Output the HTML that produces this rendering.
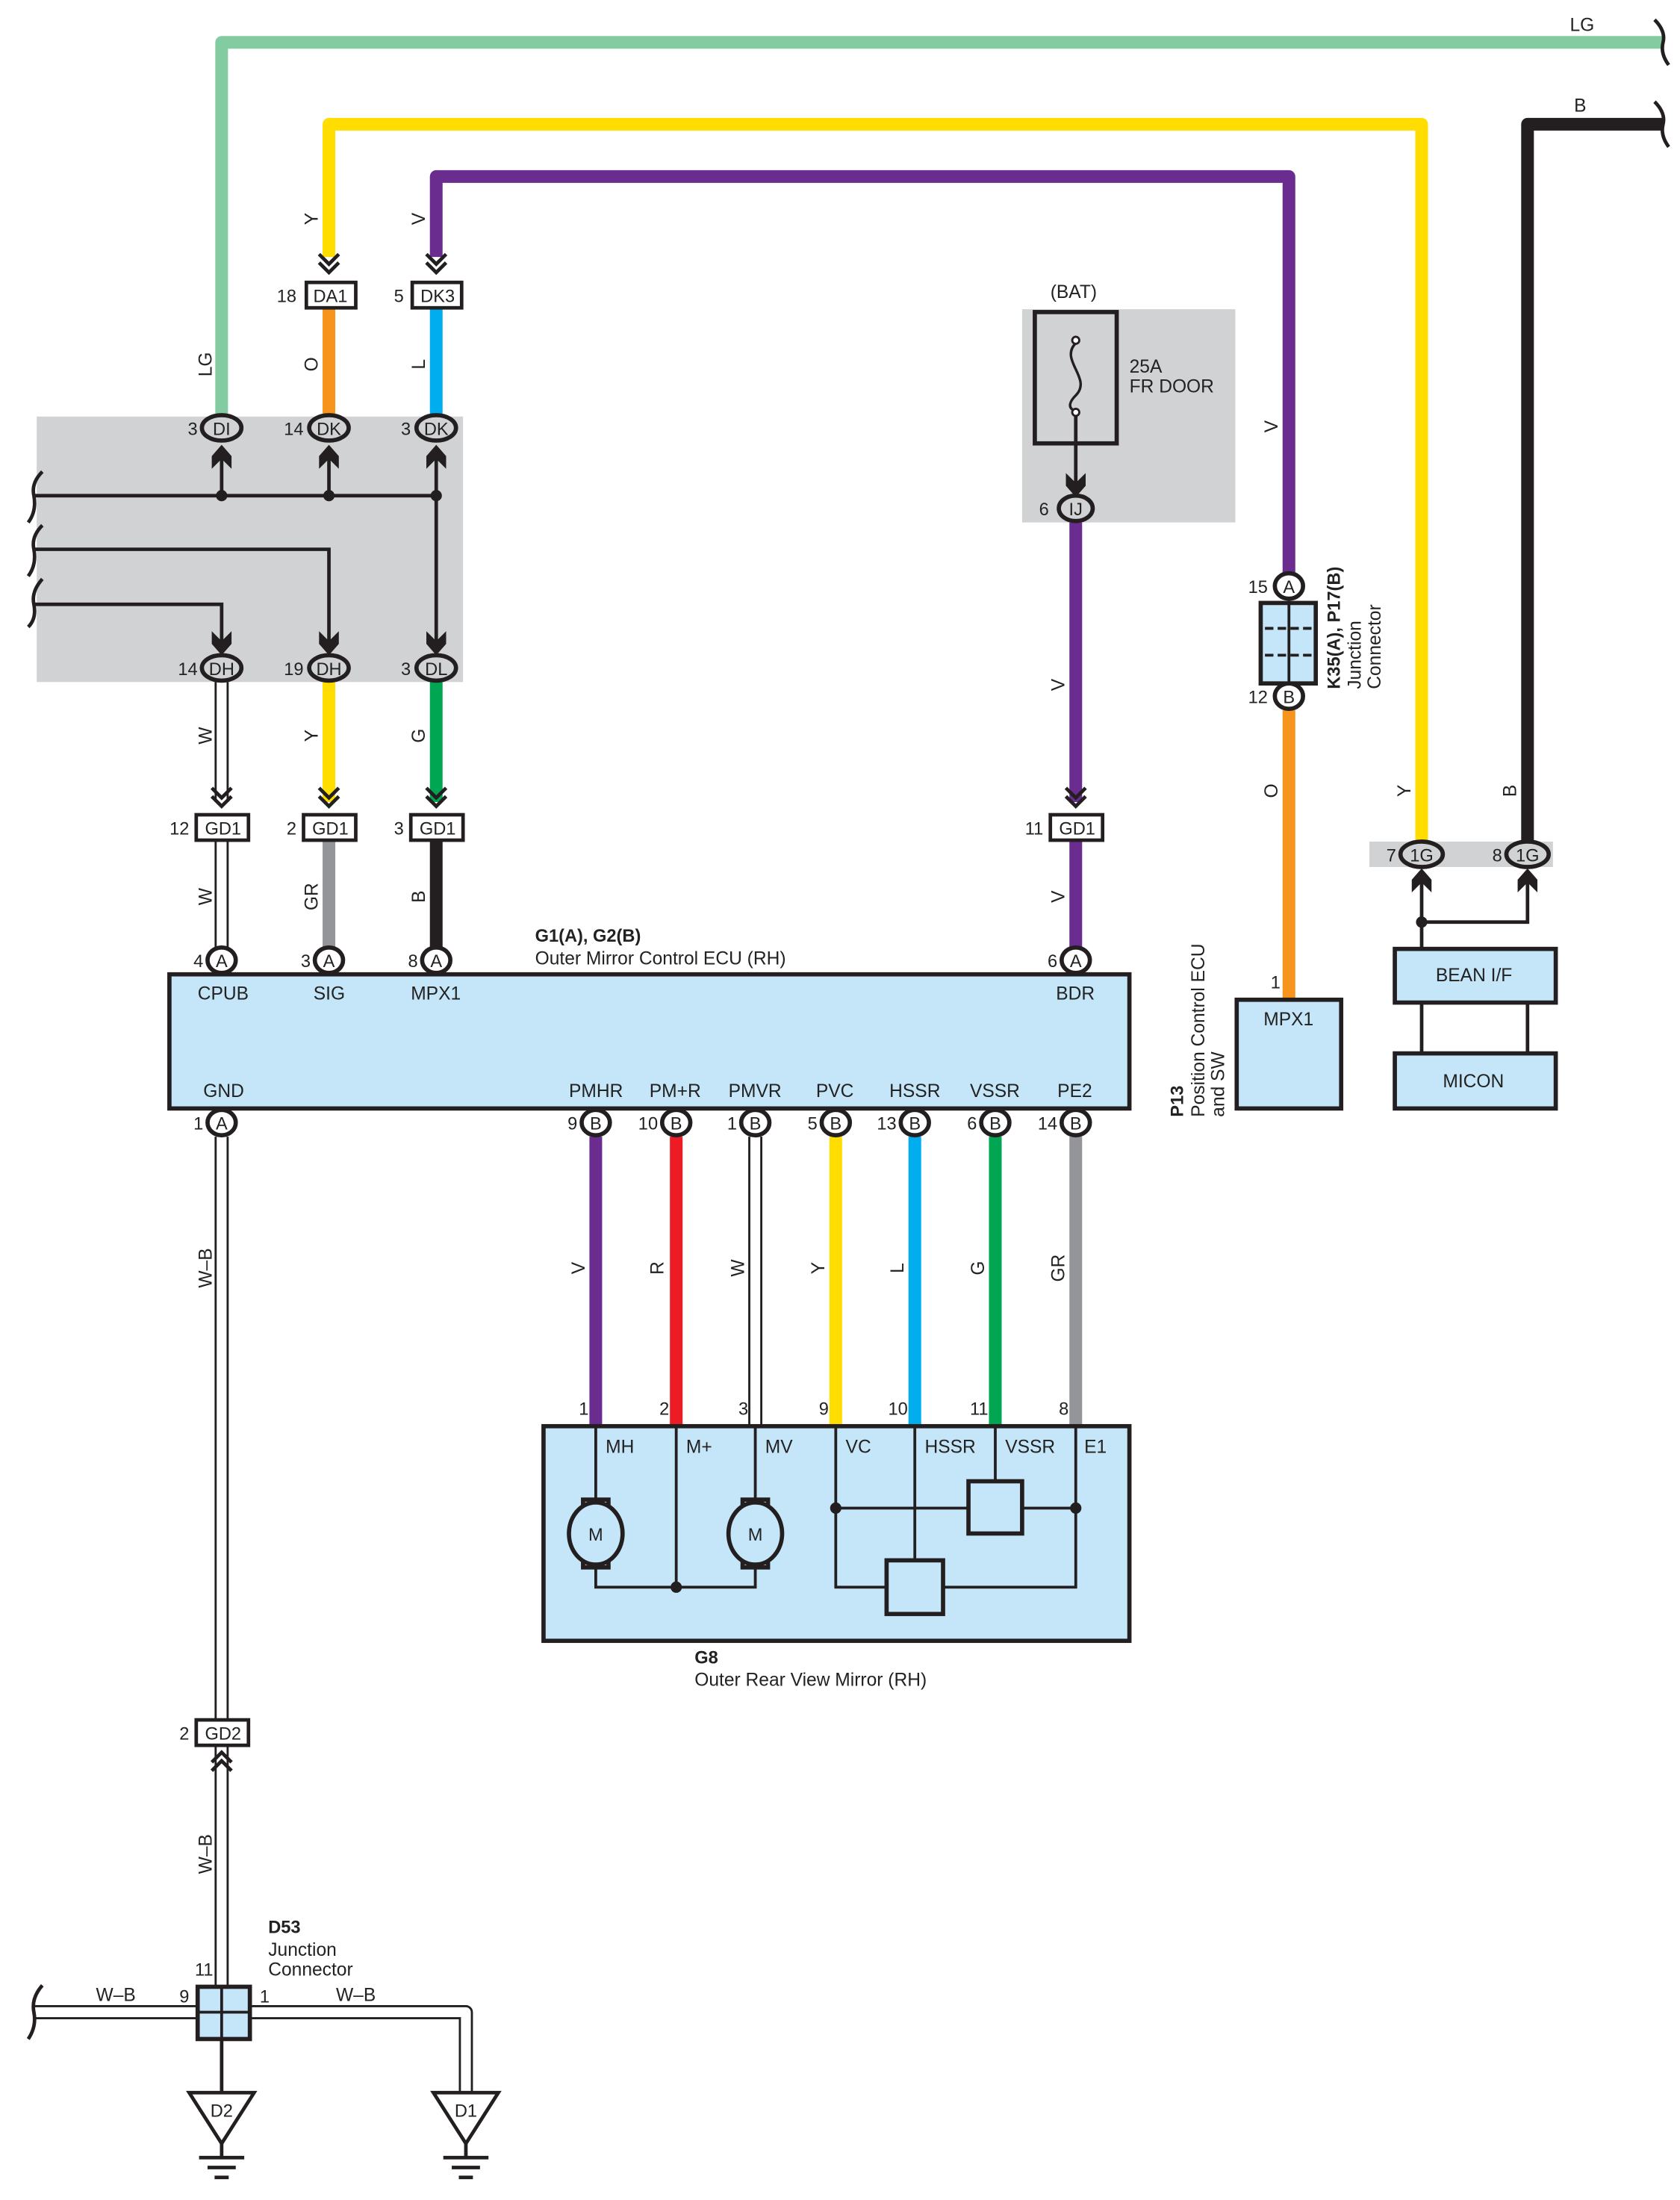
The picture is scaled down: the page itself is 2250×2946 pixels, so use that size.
<!DOCTYPE html>
<html><head><meta charset="utf-8"><style>
html,body{margin:0;padding:0;background:#fff;}
svg{display:block;}
text{font-family:"Liberation Sans",sans-serif;fill:#222;}
</style></head><body>
<svg width="2250" height="2946" viewBox="0 0 1190 1558" preserveAspectRatio="none" xmlns="http://www.w3.org/2000/svg">
<rect width="1190" height="1558" fill="#fff"/>
<!-- gray boxes -->
<rect x="26" y="295" width="302" height="188" fill="#d1d2d4"/>
<rect x="724" y="219" width="151" height="151" fill="#d1d2d4"/>
<rect x="970" y="596" width="130" height="18" fill="#d1d2d4"/>

<g fill="none" stroke-linejoin="round">
<!-- top wires -->
<path d="M157 296 V30 H1178" stroke="#83cba0" stroke-width="9"/>
<path d="M233 182 V88 H1007 V596" stroke="#ffdd00" stroke-width="9"/>
<path d="M309 182 V125 H913 V406" stroke="#6b2c8f" stroke-width="9"/>
<path d="M1082 596 V88 H1178" stroke="#231f20" stroke-width="9"/>
<path d="M233 218 V295" stroke="#f7941d" stroke-width="9"/>
<path d="M309 218 V295" stroke="#00aeef" stroke-width="9"/>
<!-- below gray -->
<path d="M233 483 V568" stroke="#ffdd00" stroke-width="9"/>
<path d="M309 483 V568" stroke="#00a651" stroke-width="9"/>
<path d="M233 595 V672" stroke="#939598" stroke-width="9"/>
<path d="M309 595 V672" stroke="#231f20" stroke-width="9"/>
<path d="M762 370 V568 M762 595 V672" stroke="#6b2c8f" stroke-width="9"/>
<path d="M913 503 V708" stroke="#f7941d" stroke-width="9"/>
<!-- white wires -->
<path d="M157 483 V568 M157 595 V672" stroke="#231f20" stroke-width="10"/>
<path d="M157 483 V568 M157 595 V672" stroke="#fff" stroke-width="7"/>
<!-- bottom ECU wires -->
<path d="M422 805 V1010" stroke="#6b2c8f" stroke-width="9"/>
<path d="M479 805 V1010" stroke="#ed1c24" stroke-width="9"/>
<path d="M535 805 V1010" stroke="#231f20" stroke-width="10"/>
<path d="M535 805 V1010" stroke="#fff" stroke-width="7"/>
<path d="M592 805 V1010" stroke="#ffdd00" stroke-width="9"/>
<path d="M648 805 V1010" stroke="#00aeef" stroke-width="9"/>
<path d="M705 805 V1010" stroke="#00a651" stroke-width="9"/>
<path d="M762 805 V1010" stroke="#939598" stroke-width="9"/>
<!-- W-B ground wire -->
<path d="M157 805 V1218 M157 1236 V1407" stroke="#231f20" stroke-width="10"/>
<path d="M157 805 V1218 M157 1236 V1407" stroke="#fff" stroke-width="7"/>
<path d="M24 1425 H140 M177 1425 H330 V1482" stroke="#231f20" stroke-width="10"/>
<path d="M24 1425 H140 M177 1425 H330 V1482" stroke="#fff" stroke-width="7"/>
<path d="M157 1444 V1482" stroke="#231f20" stroke-width="2.5"/>
</g>

<!-- internal junction lines -->
<g fill="none" stroke="#231f20" stroke-width="2.5">
<path d="M24 351 H309"/>
<path d="M157 320 V351 M233 320 V351 M309 320 V458"/>
<path d="M24 389 H233 V458"/>
<path d="M24 428 H157 V458"/>
<path d="M762 290 V345"/>
<path d="M1007 625 V672 M1007 653 H1082 V625"/>
<path d="M1007 710 V746 M1082 710 V746"/>
<!-- braces -->
<path d="M30 334 Q22 342 24 351 Q26 362 20 370 M30 372 Q22 380 24 389 Q26 400 20 408 M30 410 Q22 419 24 428 Q26 438 20 444"/>
<path d="M1172 14 Q1180 22 1178 30 Q1176 38 1182 46 M1172 72 Q1180 80 1178 88 Q1176 96 1182 104"/>
<path d="M30 1406 Q22 1415 24 1425 Q26 1435 20 1444"/>
</g>
<g fill="#231f20">
<circle cx="157" cy="351" r="4"/><circle cx="233" cy="351" r="4"/><circle cx="309" cy="351" r="4"/>
<circle cx="1007" cy="653" r="4"/>
<!-- up filled arrows -->
<path d="M157 315 l7 8 v9 l-7 -7 l-7 7 v-9z"/>
<path d="M233 315 l7 8 v9 l-7 -7 l-7 7 v-9z"/>
<path d="M309 315 l7 8 v9 l-7 -7 l-7 7 v-9z"/>
<path d="M1007 615 l7 8 v9 l-7 -7 l-7 7 v-9z"/>
<path d="M1082 615 l7 8 v9 l-7 -7 l-7 7 v-9z"/>
<!-- down filled arrows -->
<path d="M157 464 l7 -8 v-9 l-7 7 l-7 -7 v9z"/>
<path d="M233 464 l7 -8 v-9 l-7 7 l-7 -7 v9z"/>
<path d="M309 464 l7 -8 v-9 l-7 7 l-7 -7 v9z"/>
<path d="M762 352 l7 -8 v-9 l-7 7 l-7 -7 v9z"/>
</g>
<!-- chevrons -->
<g fill="none" stroke="#231f20" stroke-width="2.5">
<path d="M226 180 l7 7 l7 -7 M226 186 l7 7 l7 -7"/>
<path d="M302 180 l7 7 l7 -7 M302 186 l7 7 l7 -7"/>
<path d="M150 558 l7 7 l7 -7 M150 564 l7 7 l7 -7"/>
<path d="M226 558 l7 7 l7 -7 M226 564 l7 7 l7 -7"/>
<path d="M302 558 l7 7 l7 -7 M302 564 l7 7 l7 -7"/>
<path d="M755 558 l7 7 l7 -7 M755 564 l7 7 l7 -7"/>
<path d="M150 1248 l7 -7 l7 7 M150 1254 l7 -7 l7 7"/>
</g>

<!-- connector boxes -->
<g fill="#fff" stroke="#231f20" stroke-width="2.5">
<rect x="217" y="200" width="35" height="18"/>
<rect x="292" y="200" width="35" height="18"/>
<rect x="139" y="577" width="37" height="18"/>
<rect x="215" y="577" width="37" height="18"/>
<rect x="291" y="577" width="37" height="18"/>
<rect x="744" y="577" width="37" height="18"/>
<rect x="139" y="1218" width="37" height="18"/>
</g>
<g font-size="12.5" text-anchor="middle">
<text x="234" y="214">DA1</text><text x="310" y="214">DK3</text>
<text x="158" y="591">GD1</text><text x="234" y="591">GD1</text><text x="310" y="591">GD1</text><text x="763" y="591">GD1</text>
<text x="158" y="1232">GD2</text>
</g>

<!-- pin ovals -->
<g stroke="#231f20" stroke-width="3">
<g fill="#d1d2d4">
<ellipse cx="157" cy="303" rx="14" ry="9"/><ellipse cx="233" cy="303" rx="14" ry="9"/><ellipse cx="309" cy="303" rx="14" ry="9"/>
<ellipse cx="157" cy="473" rx="14" ry="9"/><ellipse cx="233" cy="473" rx="14" ry="9"/><ellipse cx="309" cy="473" rx="14" ry="9"/>
<ellipse cx="762" cy="360" rx="12" ry="9"/>
<ellipse cx="1007" cy="605" rx="15" ry="9"/><ellipse cx="1082" cy="605" rx="15" ry="9"/>
</g>
<g fill="#fff">
<ellipse cx="157" cy="680" rx="10" ry="9"/><ellipse cx="233" cy="680" rx="10" ry="9"/><ellipse cx="309" cy="680" rx="10" ry="9"/><ellipse cx="762" cy="680" rx="10" ry="9"/>
<ellipse cx="157" cy="795" rx="10" ry="9"/>
<ellipse cx="422" cy="795" rx="10" ry="9"/><ellipse cx="479" cy="795" rx="10" ry="9"/><ellipse cx="535" cy="795" rx="10" ry="9"/><ellipse cx="592" cy="795" rx="10" ry="9"/><ellipse cx="648" cy="795" rx="10" ry="9"/><ellipse cx="705" cy="795" rx="10" ry="9"/><ellipse cx="762" cy="795" rx="10" ry="9"/>
<ellipse cx="913" cy="415" rx="10" ry="9"/><ellipse cx="913" cy="493" rx="10" ry="9"/>
</g>
</g>
<g font-size="12.5" text-anchor="middle">
<text x="157" y="308">DI</text><text x="233" y="308">DK</text><text x="309" y="308">DK</text>
<text x="157" y="478">DH</text><text x="233" y="478">DH</text><text x="309" y="478">DL</text>
<text x="762" y="365">IJ</text>
<text x="1007" y="610">1G</text><text x="1082" y="610">1G</text>
<text x="157" y="685">A</text><text x="233" y="685">A</text><text x="309" y="685">A</text><text x="762" y="685">A</text>
<text x="157" y="800">A</text>
<text x="422" y="800">B</text><text x="479" y="800">B</text><text x="535" y="800">B</text><text x="592" y="800">B</text><text x="648" y="800">B</text><text x="705" y="800">B</text><text x="762" y="800">B</text>
<text x="913" y="420">A</text><text x="913" y="498">B</text>
</g>
<!-- pin numbers -->
<g font-size="12.5" text-anchor="end">
<text x="210" y="214">18</text><text x="286" y="214">5</text>
<text x="140" y="308">3</text><text x="215" y="308">14</text><text x="291" y="308">3</text>
<text x="140" y="478">14</text><text x="215" y="478">19</text><text x="291" y="478">3</text>
<text x="134" y="591">12</text><text x="210" y="591">2</text><text x="286" y="591">3</text><text x="739" y="591">11</text>
<text x="743" y="365">6</text>
<text x="144" y="685">4</text><text x="220" y="685">3</text><text x="296" y="685">8</text><text x="749" y="685">6</text>
<text x="144" y="800">1</text>
<text x="409" y="800">9</text><text x="466" y="800">10</text><text x="522" y="800">1</text><text x="579" y="800">5</text><text x="635" y="800">13</text><text x="692" y="800">6</text><text x="749" y="800">14</text>
<text x="898" y="420">15</text><text x="898" y="498">12</text>
<text x="989" y="610">7</text><text x="1064" y="610">8</text>
<text x="907" y="700">1</text>
<text x="417" y="1002">1</text><text x="474" y="1002">2</text><text x="530" y="1002">3</text><text x="587" y="1002">9</text><text x="643" y="1002">10</text><text x="700" y="1002">11</text><text x="757" y="1002">8</text>
<text x="134" y="1232">2</text>
<text x="151" y="1399">11</text><text x="134" y="1418">9</text>
</g>
<text x="184" y="1418" font-size="12.5">1</text>

<!-- K35 connector -->
<rect x="893" y="427" width="39" height="57" fill="#c5e6f8" stroke="#231f20" stroke-width="3"/>
<path d="M913 427 V484" stroke="#231f20" stroke-width="2"/>
<path d="M896 445 H930 M896 464 H930" stroke="#231f20" stroke-width="2" stroke-dasharray="6 3"/>

<!-- fuse -->
<rect x="733" y="221" width="58" height="93" fill="none" stroke="#231f20" stroke-width="3"/>
<path d="M762 243 C750 255 774 268 762 280 C752 290 764 292 762 290" fill="none" stroke="#231f20" stroke-width="1.8"/>
<circle cx="762" cy="241" r="2.5" fill="#fff" stroke="#231f20" stroke-width="1.5"/>
<circle cx="762" cy="292" r="2.5" fill="#fff" stroke="#231f20" stroke-width="1.5"/>

<!-- ECU box -->
<rect x="120" y="690" width="680" height="95" fill="#c5e6f8" stroke="#231f20" stroke-width="3"/>
<!-- P13 -->
<rect x="876" y="708" width="74" height="77" fill="#c5e6f8" stroke="#231f20" stroke-width="3"/>
<rect x="988" y="672" width="114" height="38" fill="#c5e6f8" stroke="#231f20" stroke-width="3"/>
<rect x="988" y="746" width="114" height="39" fill="#c5e6f8" stroke="#231f20" stroke-width="3"/>

<!-- mirror box -->
<rect x="385" y="1010" width="415" height="152" fill="#c5e6f8" stroke="#231f20" stroke-width="3"/>
<g fill="none" stroke="#231f20" stroke-width="2">
<path d="M422 1010 V1062 M422 1110 V1124 H535 V1110 M535 1010 V1062 M479 1010 V1124"/>
<path d="M592 1010 V1124 H628 M668 1124 H762 V1010 M592 1068 H686 M724 1068 H762 M648 1010 V1105 M705 1010 V1049"/>
</g>
<g fill="#c5e6f8" stroke="#231f20" stroke-width="3">
<rect x="413" y="1062" width="18" height="48"/><ellipse cx="422" cy="1086" rx="19" ry="22"/>
<rect x="526" y="1062" width="18" height="48"/><ellipse cx="535" cy="1086" rx="19" ry="22"/>
<rect x="686" y="1049" width="38" height="37"/>
<rect x="628" y="1105" width="40" height="38"/>
</g>
<g fill="#231f20"><circle cx="479" cy="1124" r="4"/><circle cx="592" cy="1068" r="4"/><circle cx="762" cy="1068" r="4"/><circle cx="157" cy="1425" r="4"/></g>
<g font-size="12.5" text-anchor="middle"><text x="422" y="1091">M</text><text x="535" y="1091">M</text></g>

<!-- D53 junction -->
<rect x="140" y="1407" width="37" height="37" fill="#c5e6f8" stroke="#231f20" stroke-width="3"/>
<path d="M157 1407 V1444 M140 1425 H177" stroke="#231f20" stroke-width="2"/>
<!-- grounds -->
<g fill="#fff" stroke="#231f20" stroke-width="2.5">
<path d="M134 1482 H180 L157 1518 Z"/><path d="M307 1482 H353 L330 1518 Z"/>
</g>
<g stroke="#231f20" stroke-width="2.5">
<path d="M157 1518 V1528 M141 1528 H173 M147 1535 H167 M152 1542 H162"/>
<path d="M330 1518 V1528 M314 1528 H346 M320 1535 H340 M325 1542 H335"/>
</g>
<g font-size="12.5" text-anchor="middle"><text x="157" y="1499">D2</text><text x="330" y="1499">D1</text></g>

<!-- labels -->
<g font-size="13">
<text x="140" y="708">CPUB</text><text x="222" y="708">SIG</text><text x="291" y="708">MPX1</text><text x="748" y="708">BDR</text>
<text x="144" y="777">GND</text>
<text x="403" y="777">PMHR</text><text x="460" y="777">PM+R</text><text x="516" y="777">PMVR</text><text x="578" y="777">PVC</text><text x="630" y="777">HSSR</text><text x="687" y="777">VSSR</text><text x="749" y="777">PE2</text>
<text x="429" y="1029">MH</text><text x="486" y="1029">M+</text><text x="542" y="1029">MV</text><text x="599" y="1029">VC</text><text x="655" y="1029">HSSR</text><text x="712" y="1029">VSSR</text><text x="768" y="1029">E1</text>
<text x="379" y="667" font-weight="bold" font-size="12.5">G1(A), G2(B)</text>
<text x="379" y="683">Outer Mirror Control ECU (RH)</text>
<text x="492" y="1178" font-weight="bold" font-size="12.5">G8</text>
<text x="492" y="1194">Outer Rear View Mirror (RH)</text>
<text x="190" y="1369" font-weight="bold" font-size="12.5">D53</text>
<text x="190" y="1385">Junction</text><text x="190" y="1399">Connector</text>
<text x="744" y="211">(BAT)</text>
<text x="800" y="264">25A</text><text x="800" y="278">FR DOOR</text>
<text x="895" y="726">MPX1</text>
<text x="1017" y="695">BEAN I/F</text>
<text x="1022" y="770">MICON</text>
<text x="1112" y="22">LG</text><text x="1115" y="79">B</text>
<text x="68" y="1417">W–B</text><text x="238" y="1417">W–B</text>
</g>
<!-- rotated labels -->
<g font-size="13" text-anchor="middle">
<text transform="translate(150,258) rotate(-90)">LG</text>
<text transform="translate(225,258) rotate(-90)">O</text>
<text transform="translate(301,258) rotate(-90)">L</text>
<text transform="translate(225,155) rotate(-90)">Y</text>
<text transform="translate(301,155) rotate(-90)">V</text>
<text transform="translate(150,521) rotate(-90)">W</text>
<text transform="translate(225,521) rotate(-90)">Y</text>
<text transform="translate(301,521) rotate(-90)">G</text>
<text transform="translate(150,635) rotate(-90)">W</text>
<text transform="translate(225,635) rotate(-90)">GR</text>
<text transform="translate(301,635) rotate(-90)">B</text>
<text transform="translate(754,635) rotate(-90)">V</text>
<text transform="translate(754,485) rotate(-90)">V</text>
<text transform="translate(905,302) rotate(-90)">V</text>
<text transform="translate(905,560) rotate(-90)">O</text>
<text transform="translate(999,560) rotate(-90)">Y</text>
<text transform="translate(1074,560) rotate(-90)">B</text>
<text transform="translate(150,898) rotate(-90)">W–B</text>
<text transform="translate(150,1313) rotate(-90)">W–B</text>
<text transform="translate(414,898) rotate(-90)">V</text>
<text transform="translate(470,898) rotate(-90)">R</text>
<text transform="translate(527,898) rotate(-90)">W</text>
<text transform="translate(584,898) rotate(-90)">Y</text>
<text transform="translate(640,898) rotate(-90)">L</text>
<text transform="translate(697,898) rotate(-90)">G</text>
<text transform="translate(754,898) rotate(-90)">GR</text>
</g>
<g font-size="13">
<text transform="translate(949,488) rotate(-90)" font-weight="bold" font-size="12.5">K35(A), P17(B)</text>
<text transform="translate(964,488) rotate(-90)">Junction</text>
<text transform="translate(978,488) rotate(-90)">Connector</text>
<text transform="translate(838,791) rotate(-90)" font-weight="bold" font-size="12.5">P13</text>
<text transform="translate(853,791) rotate(-90)">Position Control ECU</text>
<text transform="translate(867,791) rotate(-90)">and SW</text>
</g>
</svg>
</body></html>
